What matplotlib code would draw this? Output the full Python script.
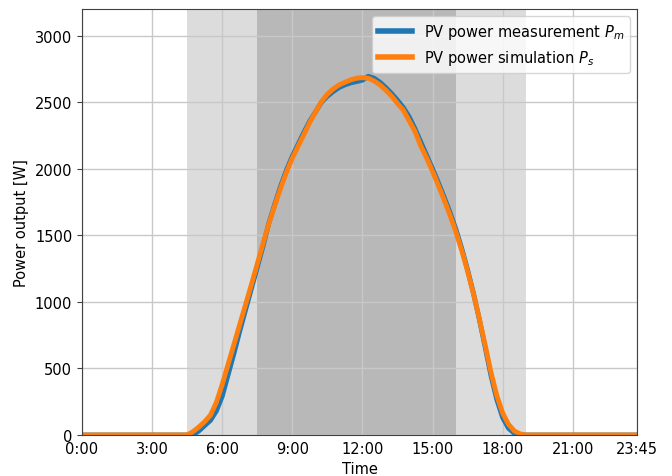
import numpy as np
import matplotlib
matplotlib.use("Agg")
import matplotlib.pyplot as plt

# time axis: 15-minute steps over one day (hours)
time_h = np.arange(96) * 0.25

# daytime values from 4:30 to 19:00 in 15-min steps (W)
day_start = 4.5
sim_day = [0, 25, 60, 100, 150, 245, 380, 530, 680, 830, 980, 1130, 1285, 1440,
           1590, 1725, 1855, 1975, 2080, 2170, 2260, 2350, 2430, 2505, 2560, 2600,
           2630, 2650, 2668, 2680, 2685, 2680, 2660, 2630, 2590, 2545, 2490, 2440,
           2360, 2280, 2170, 2080, 1980, 1875, 1765, 1650, 1525, 1385, 1230, 1060,
           875, 675, 470, 295, 165, 80, 30, 8, 0]
meas_day = [0, 0, 30, 70, 110, 180, 290, 450, 610, 780, 940, 1100, 1260, 1420,
            1595, 1735, 1870, 1990, 2095, 2185, 2275, 2360, 2430, 2500, 2545, 2580,
            2610, 2630, 2645, 2655, 2665, 2695, 2680, 2650, 2610, 2565, 2515, 2460,
            2390, 2300, 2200, 2100, 2000, 1895, 1785, 1670, 1545, 1400, 1240, 1065,
            870, 660, 445, 265, 130, 50, 12, 0, 0]

start_idx = int(day_start / 0.25)
P_s = np.zeros(96)
P_m = np.zeros(96)
P_s[start_idx:start_idx + len(sim_day)] = sim_day
P_m[start_idx:start_idx + len(meas_day)] = meas_day

tick_pos = [0, 3, 6, 9, 12, 15, 18, 21, 23.75]
tick_labels = ["0:00", "3:00", "6:00", "9:00", "12:00", "15:00", "18:00", "21:00", "23:45"]
y_ticks = [0, 500, 1000, 1500, 2000, 2500, 3000]

light_span = (4.5, 19.0)
dark_span = (7.5, 16.0)

fig = plt.figure(figsize=(6.72, 4.77), dpi=100)
ax = fig.add_axes([0.122, 0.086, 0.826, 0.893])

ax.axvspan(*light_span, color="#dcdcdc", lw=0)
ax.axvspan(*dark_span, color="#b8b8b8", lw=0)

ax.plot(time_h, P_m, color="#1f77b4", lw=3.5, label=r"PV power measurement $P_m$")
ax.plot(time_h, P_s, color="#ff7f0e", lw=3.5, label=r"PV power simulation $P_s$")

ax.set_xlim(0, 23.75)
ax.set_ylim(0, 3200)
ax.set_xticks(tick_pos)
ax.set_xticklabels(tick_labels, fontsize=10.5)
ax.set_yticks(y_ticks)
ax.tick_params(axis="y", labelsize=10.5, color="#404040")
ax.tick_params(axis="x", length=0, pad=4)
for sp in ax.spines.values():
    sp.set_color("#404040")
ax.grid(True, color="#c8c8c8", lw=1)
ax.set_xlabel("Time", fontsize=10.5, labelpad=4)
ax.set_ylabel("Power output [W]", fontsize=10.5, labelpad=4)
leg = ax.legend(loc="upper right", fontsize=10.5, handlelength=2.3,
                bbox_to_anchor=(1.0, 1.0))
for line in leg.get_lines():
    line.set_linewidth(4)

fig.savefig("out.png", dpi=100)
